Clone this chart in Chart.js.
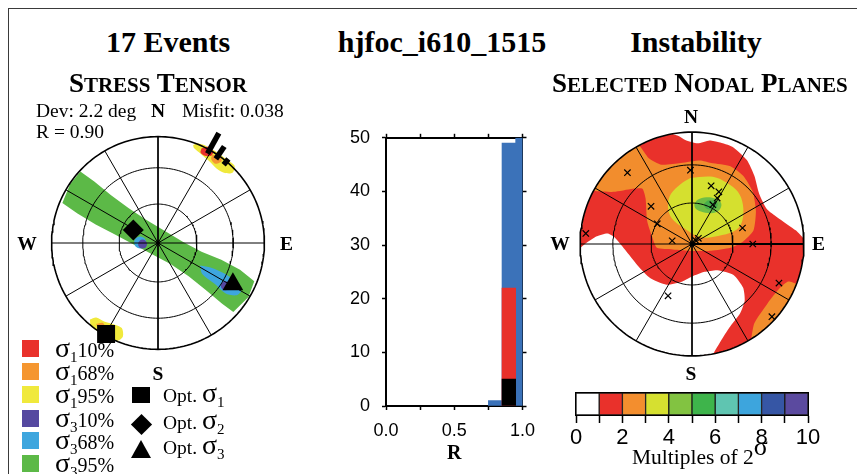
<!DOCTYPE html>
<html>
<head>
<meta charset="utf-8">
<title>hjfoc_i610_1515</title>
<script src="https://cdn.jsdelivr.net/npm/chart.js@4.4.1/dist/chart.umd.min.js"></script>
<style>
  html, body { margin: 0; background: #fff; }
  #page { position: relative; width: 857px; height: 474px; overflow: hidden; font-family: "Liberation Serif", "Times New Roman", serif; color: #000; }
  #frame { position: absolute; left: 8px; top: 8px; width: 900px; height: 500px; border-left: 1.5px solid #3a3a3a; border-top: 1.5px solid #3a3a3a; }
  canvas { position: absolute; }
  .t { position: absolute; white-space: nowrap; line-height: 1; z-index: 2; }
  .c { transform: translateX(-50%); }
  .b { font-weight: bold; }
  .title { font-size: 30px; font-weight: bold; top: 27px; }
  .sc { font-size: 21px; }
  .sig { font-size: 28px; line-height: 0; }
  .sub { font-size: 15px; line-height: 0; position: relative; top: 5px; }
  .sw { position: absolute; left: 22px; width: 17px; height: 17px; }
  .mk { position: absolute; background: #000; }
</style>
</head>
<body>
<div id="page">
  <div id="frame"></div>
  <canvas id="left" width="302" height="302" style="left:7px;top:92px"></canvas>
  <canvas id="hist" width="215" height="355" style="left:330px;top:115px"></canvas>
  <canvas id="right" width="280" height="280" style="left:552px;top:104px"></canvas>
  <canvas id="cbar" width="270" height="70" style="left:560px;top:385px"></canvas>

  <div class="t c title" style="left:168px">17 Events</div>
  <div class="t c title" style="left:442px">hjfoc_i610_1515</div>
  <div class="t c title" style="left:696px">Instability</div>

  <div class="t c b" style="left:158px;top:70.4px;font-size:27px">S<span class="sc">TRESS</span> T<span class="sc">ENSOR</span></div>
  <div class="t b" style="left:552px;top:70.4px;font-size:27px">S<span class="sc">ELECTED</span> N<span class="sc">ODAL</span> P<span class="sc">LANES</span></div>

  <div class="t" style="left:36px;top:100.7px;font-size:19.5px">Dev: 2.2 deg</div>
  <div class="t c b" style="left:158px;top:100.7px;font-size:19.5px">N</div>
  <div class="t" style="left:182px;top:100.7px;font-size:19.5px">Misfit: 0.038</div>
  <div class="t" style="left:36px;top:121.7px;font-size:19.5px">R = 0.90</div>
  <div class="t c b" style="left:27px;top:233.7px;font-size:19.5px">W</div>
  <div class="t c b" style="left:286.5px;top:233.7px;font-size:19.5px">E</div>
  <div class="t c b" style="left:158px;top:363.7px;font-size:19.5px">S</div>

  <div class="t c b" style="left:691px;top:106.7px;font-size:19.5px">N</div>
  <div class="t c b" style="left:691px;top:363.7px;font-size:19.5px">S</div>
  <div class="t c b" style="left:560px;top:233.7px;font-size:19.5px">W</div>
  <div class="t c b" style="left:818.5px;top:233.7px;font-size:19.5px">E</div>

  <div class="sw" style="top:340px;background:#e9312b"></div>
  <div class="t" style="left:55px;top:340.25px;font-size:20px"><span class="sig">σ</span><span class="sub">1</span>10%</div>
  <div class="sw" style="top:363px;background:#f5962f"></div>
  <div class="t" style="left:55px;top:363.25px;font-size:20px"><span class="sig">σ</span><span class="sub">1</span>68%</div>
  <div class="sw" style="top:386px;background:#f0e93c"></div>
  <div class="t" style="left:55px;top:386.25px;font-size:20px"><span class="sig">σ</span><span class="sub">1</span>95%</div>
  <div class="sw" style="top:410px;background:#5548a0"></div>
  <div class="t" style="left:55px;top:410.25px;font-size:20px"><span class="sig">σ</span><span class="sub">3</span>10%</div>
  <div class="sw" style="top:432px;background:#3ea6de"></div>
  <div class="t" style="left:55px;top:432.25px;font-size:20px"><span class="sig">σ</span><span class="sub">3</span>68%</div>
  <div class="sw" style="top:455px;background:#5cb947"></div>
  <div class="t" style="left:55px;top:455.25px;font-size:20px"><span class="sig">σ</span><span class="sub">3</span>95%</div>

  <div class="mk" style="left:132px;top:387px;width:18px;height:16px"></div>
  <div class="mk" style="left:133.5px;top:417px;width:15px;height:15px;transform:rotate(45deg)"></div>
  <div style="position:absolute;left:130.5px;top:440px;width:0;height:0;border-left:10.5px solid transparent;border-right:10.5px solid transparent;border-bottom:18px solid #000"></div>
  <div class="t" style="left:163px;top:385.7px;font-size:19.5px">Opt. <span class="sig">σ</span><span class="sub">1</span></div>
  <div class="t" style="left:163px;top:412.7px;font-size:19.5px">Opt. <span class="sig">σ</span><span class="sub">2</span></div>
  <div class="t" style="left:163px;top:437.7px;font-size:19.5px">Opt. <span class="sig">σ</span><span class="sub">3</span></div>

  <div class="t" style="left:632px;top:447px;font-size:21.5px">Multiples of 2<span style="font-size:26px;line-height:0;position:relative;top:-9px">σ</span></div>
</div>

<script>
"use strict";

// ---------- data ----------

// net grid (equal area): small circles by plunge, spokes by azimuth
const ringPlunges = [60, 30, 0];
const spokeAzimuths = [0, 30, 60, 90, 120, 150];

// stress tensor net (x = east, y = north, unit = net radius)
const optSigma1 = [-0.488, -0.855];
const optSigma2 = [-0.232, 0.122];
const optSigma3 = [0.704, -0.388];
const roseAz = [29, 34.5, 40];
const roseLen = [0.22, 0.14, 0.07];

const sigma3Band95 = [
  [-0.827, 0.552], [-0.730, 0.671], [-0.599, 0.578], [-0.441, 0.449], [-0.278, 0.330],
  [-0.112, 0.218], [0.061, 0.115], [0.233, 0.012], [0.409, -0.082], [0.595, -0.157],
  [0.771, -0.251], [0.905, -0.360], [0.851, -0.508], [0.708, -0.648], [0.603, -0.570],
  [0.446, -0.440], [0.288, -0.312], [0.121, -0.200], [-0.056, -0.106], [-0.233, -0.012],
  [-0.409, 0.082], [-0.586, 0.175], [-0.757, 0.278], [-0.899, 0.375]
];
const sigma3Band68 = [
  [0.397, -0.211], [0.500, -0.232], [0.637, -0.293], [0.733, -0.367], [0.781, -0.448],
  [0.735, -0.492], [0.633, -0.472], [0.532, -0.384], [0.414, -0.288]
];
const sigma3Spot10 = [[0.633, -0.403], [-0.145, -0.01]];
const sigma3Spot68 = [[-0.168, 0.004]];
const sigma1NE95 = [
  [0.33, 0.92], [0.36, 0.935], [0.42, 0.925], [0.50, 0.885], [0.58, 0.835], [0.66, 0.775],
  [0.72, 0.725], [0.70, 0.66], [0.62, 0.66], [0.55, 0.70], [0.48, 0.77], [0.40, 0.84], [0.34, 0.89]
];
const sigma1NE68 = [[0.51, 0.83], [0.57, 0.82], [0.60, 0.77], [0.54, 0.745], [0.50, 0.79]];
const sigma1NE10 = [[0.41, 0.89], [0.47, 0.905], [0.52, 0.86], [0.50, 0.82], [0.44, 0.82], [0.40, 0.85]];
const sigma1SW95 = [
  [-0.64, -0.72], [-0.58, -0.70], [-0.50, -0.74], [-0.40, -0.77], [-0.34, -0.80],
  [-0.33, -0.88], [-0.38, -0.92], [-0.45, -0.90], [-0.55, -0.84], [-0.63, -0.78]
];
const sigma1SW68 = [[-0.58, -0.76], [-0.52, -0.75], [-0.50, -0.79], [-0.56, -0.81]];

// R histogram
const binCenters = [0.8, 0.9, 1.0];
const allCounts = [1, 49, 50];
const redCounts = [0, 22, 0];
const blackCounts = [0, 5, 0];

// instability net: contour edges (x = east, y = north)
const whiteNEEdge = [
  [0.93, 0.12], [0.76, 0.24], [0.67, 0.31], [0.60, 0.45], [0.557, 0.61], [0.49, 0.75],
  [0.36, 0.87], [0.24, 0.91], [0.157, 0.925], [0.05, 0.90], [-0.06, 0.93], [-0.12, 0.965]
];
const whiteNEArc = [-10, 87];
const whiteSWEdge = [
  [-0.857, 0.066], [-0.757, 0.094], [-0.70, 0.066], [-0.60, -0.049], [-0.486, -0.191],
  [-0.371, -0.306], [-0.229, -0.363], [-0.086, -0.334], [0, -0.291], [0.114, -0.249],
  [0.229, -0.234], [0.371, -0.277], [0.457, -0.391], [0.471, -0.506], [0.429, -0.62],
  [0.343, -0.734], [0.286, -0.82]
];
const whiteSWArc = [169, 268];
const orangeEdge = [
  [-0.386, 0.766], [-0.272, 0.708], [-0.10, 0.723], [0.071, 0.745], [0.171, 0.723],
  [0.343, 0.694], [0.457, 0.609], [0.543, 0.466], [0.571, 0.294], [0.55, 0.123],
  [0.457, 0.023], [0.343, -0.034], [0.171, -0.06], [0, -0.063], [-0.171, -0.049],
  [-0.314, -0.034], [-0.357, 0.066], [-0.401, 0.208], [-0.415, 0.408], [-0.443, 0.494],
  [-0.529, 0.494], [-0.701, 0.466]
];
const orangeArc = [298.4, 331.8];
const orangeSEEdge = [[0.86, -0.335], [0.786, -0.392], [0.672, -0.535], [0.557, -0.707]];
const orangeSEArc = [148, 111];
const yellowEdge = [
  [-0.015, 0.59], [0.186, 0.60], [0.314, 0.545], [0.41, 0.466], [0.455, 0.351], [0.45, 0.21],
  [0.40, 0.13], [0.27, 0.08], [0.08, 0.06], [-0.07, 0.14], [-0.186, 0.237], [-0.215, 0.351],
  [-0.186, 0.451], [-0.1, 0.537]
];
const greenEdge = [
  [0.02, 0.35], [0.05, 0.395], [0.13, 0.418], [0.22, 0.40], [0.262, 0.36], [0.24, 0.30],
  [0.17, 0.275], [0.08, 0.29], [0.03, 0.32]
];
const darkGreenEdge = [[0.10, 0.35], [0.15, 0.39], [0.225, 0.37], [0.215, 0.32], [0.14, 0.31]];
const nodalX = [-0.577, -0.014, 0.171, 0.24, 0.225, 0.186, -0.366, 0.451, -0.949, -0.177, 0.057, 0.03, 0.543, 0.777, 0.714, -0.214, -0.31];
const nodalY = [0.637, 0.66, 0.52, 0.466, 0.41, 0.351, 0.337, 0.143, 0.094, 0.029, 0.051, 0.035, 0, -0.349, -0.649, -0.463, 0.18];

// colour scale
const cbarCenters = [0.5, 1.5, 2.5, 3.5, 4.5, 5.5, 6.5, 7.5, 8.5, 9.5];
const cbarColors = ['#ffffff', '#e9312b', '#f38e2e', '#d6e030', '#82c341', '#3eb44b', '#5fc5b1', '#3da5dd', '#3656a5', '#5b4a9f'];

// ---------- helpers ----------
Chart.defaults.font.family = "'Liberation Sans', Arial, sans-serif";
Chart.defaults.color = '#000';

const rad = d => d * Math.PI / 180;
const azPt = (az, r) => [r * Math.sin(rad(az)), r * Math.cos(rad(az))];
const eqArea = plunge => Math.SQRT2 * Math.sin(rad((90 - plunge) / 2));
const xy = arr => arr.map(p => ({x: p[0], y: p[1]}));

function arc(a1, a2) {
  const out = [];
  const n = Math.max(2, Math.ceil(Math.abs(a2 - a1) / 2));
  for (let i = 0; i <= n; i++) out.push(azPt(a1 + (a2 - a1) * i / n, 0.998));
  return out;
}
function closed(arr) { return arr.concat([arr[0]]); }

function poly(points, color, tension) {
  return {data: xy(closed(points)), showLine: true, fill: 'shape', backgroundColor: color,
    borderColor: 'rgba(0,0,0,0)', borderWidth: 0, pointRadius: 0, tension: tension || 0};
}
function line(points, width) {
  return {data: xy(points), showLine: true, fill: false, borderColor: '#000',
    borderWidth: width, pointRadius: 0, tension: 0, borderCapStyle: 'butt'};
}
function marks(points, style, radius, color, width) {
  return {data: xy(points), showLine: false, pointStyle: style, pointRadius: radius,
    backgroundColor: color, borderColor: color, borderWidth: width || 0};
}
function gridSets() {
  const sets = [];
  ringPlunges.forEach(p => {
    const r = eqArea(p);
    const pts = [];
    for (let a = 0; a <= 360; a += 2) pts.push(azPt(a, r));
    sets.push(line(pts, p === 0 ? 1.6 : 1));
  });
  spokeAzimuths.forEach(a => sets.push(line([azPt(a, 1), azPt(a + 180, 1)], 1)));
  return sets;
}

function stereonet(id, half, datasets) {
  datasets.forEach((d, i) => { d.order = datasets.length - i; });
  return new Chart(document.getElementById(id), {
    type: 'scatter',
    data: {datasets: datasets},
    options: {
      responsive: false, animation: false, events: [],
      layout: {padding: 0},
      plugins: {legend: {display: false}, tooltip: {enabled: false}},
      scales: {
        x: {type: 'linear', display: false, min: -half, max: half},
        y: {type: 'linear', display: false, min: -half, max: half}
      }
    }
  });
}

// ---------- stress tensor net ----------
const roseBars = roseAz.map((a, i) => line([azPt(a, 0.96), azPt(a, 0.96 + roseLen[i])], 5.5));
stereonet('left', 1.3, [
  poly(sigma3Band95, '#5cb947'),
  poly(sigma3Band68, '#3ea6de', 0.3),
  marks(sigma3Spot68, 'circle', 6, '#3ea6de'),
  marks(sigma3Spot10, 'circle', 4.5, '#5548a0'),
  poly(sigma1NE95, '#f0e93c', 0.3),
  poly(sigma1NE68, '#f5962f', 0.3),
  poly(sigma1NE10, '#e9312b', 0.3),
  poly(sigma1SW95, '#f0e93c', 0.3),
  poly(sigma1SW68, '#f5962f', 0.3),
  ...gridSets(),
  ...roseBars,
  marks([optSigma1], 'rect', 12.7, '#000'),
  marks([optSigma2], 'rectRot', 10.5, '#000'),
  marks([optSigma3], 'triangle', 12, '#000'),
  marks([[0, 0]], 'circle', 2, '#000')
]);

// ---------- instability net ----------
const disc = [];
for (let a = 0; a < 360; a += 2) disc.push(azPt(a, 0.998));
stereonet('right', 1.2, [
  poly(disc, '#e9312b'),
  poly(arc(whiteNEArc[0], whiteNEArc[1]).concat(whiteNEEdge), '#ffffff', 0.2),
  poly(arc(whiteSWArc[0], whiteSWArc[1]).concat(whiteSWEdge), '#ffffff', 0.2),
  poly(arc(orangeArc[0], orangeArc[1]).concat(orangeEdge), '#f28d2d', 0.2),
  poly(arc(orangeSEArc[0], orangeSEArc[1]).concat(orangeSEEdge), '#f28d2d', 0.2),
  poly(yellowEdge, '#d5e02f', 0.35),
  poly(greenEdge, '#6fbe45', 0.4),
  poly(darkGreenEdge, '#47ae4a', 0.4),
  ...gridSets(),
  line([[0, 0], azPt(90, 1)], 2),
  marks(nodalX.map((x, i) => [x, nodalY[i]]), 'crossRot', 4.5, '#000', 1.2),
  marks([[0, 0]], 'circle', 2.5, '#000')
]);

// ---------- R histogram ----------
const bars = counts => binCenters.map((x, i) => ({x: x, y: counts[i]})).filter(p => p.y > 0);
const tickFont = {family: "'Liberation Sans', Arial, sans-serif", size: 18};
const tickGrid = {display: true, drawOnChartArea: false, drawTicks: true, tickLength: 4, tickColor: '#000', tickWidth: 1.5, offset: false};
const frame = {display: true, color: '#000', width: 2};

new Chart(document.getElementById('hist'), {
  type: 'bar',
  data: {
    datasets: [
      {data: bars(blackCounts), backgroundColor: '#000000'},
      {data: bars(redCounts), backgroundColor: '#e8302a'},
      {data: bars(allCounts), backgroundColor: '#3b72b9'}
    ]
  },
  options: {
    responsive: false, animation: false, events: [],
    layout: {padding: 0},
    datasets: {bar: {grouped: false, barPercentage: 1, categoryPercentage: 1, borderWidth: 0}},
    plugins: {legend: {display: false}, tooltip: {enabled: false}},
    scales: {
      x: {
        type: 'linear', position: 'bottom', min: 0, max: 1, offset: false,
        ticks: {stepSize: 0.25, autoSkip: false, maxRotation: 0, padding: 10, font: tickFont, color: '#000',
          callback: v => Math.abs(v * 2 - Math.round(v * 2)) < 1e-6 ? v.toFixed(1) : ''},
        grid: tickGrid, border: frame,
        title: {display: true, text: 'R', color: '#000', padding: {top: 0, bottom: 4.5},
          font: {family: "'Liberation Serif', 'Times New Roman', serif", size: 20, weight: 'bold'}},
        afterFit: s => { s.height = 64; }
      },
      x2: {
        type: 'linear', axis: 'x', position: 'top', min: 0, max: 1, offset: false,
        ticks: {stepSize: 0.25, display: false}, grid: tickGrid, border: frame,
        afterFit: s => { s.height = 13; }
      },
      y: {
        type: 'linear', position: 'left', min: 0, max: 50,
        ticks: {stepSize: 10, padding: 12, font: tickFont, color: '#000'},
        grid: tickGrid, border: frame,
        afterFit: s => { s.width = 56; }
      },
      y2: {
        type: 'linear', axis: 'y', position: 'right', min: 0, max: 50,
        ticks: {stepSize: 10, display: false}, grid: tickGrid, border: frame,
        afterFit: s => { s.width = 20; }
      }
    }
  }
});

// ---------- colour scale ----------
new Chart(document.getElementById('cbar'), {
  type: 'bar',
  data: {
    datasets: [{
      data: cbarCenters.map(x => ({x: x, y: 1})),
      backgroundColor: cbarColors, borderColor: '#1a1a1a', borderWidth: 1, borderSkipped: false,
      barPercentage: 1, categoryPercentage: 1
    }]
  },
  options: {
    responsive: false, animation: false, events: [],
    layout: {padding: {left: 16, right: 22, top: 8, bottom: 0}},
    plugins: {legend: {display: false}, tooltip: {enabled: false}},
    scales: {
      x: {
        type: 'linear', position: 'bottom', min: 0, max: 10, offset: false,
        ticks: {stepSize: 1, autoSkip: false, maxRotation: 0, padding: 2, color: '#000',
          font: {family: "'Liberation Sans', Arial, sans-serif", size: 22},
          callback: v => v % 2 === 0 ? String(v) : ''},
        grid: {display: true, drawOnChartArea: false, tickLength: 8, tickColor: '#000', tickWidth: 1.5, offset: false},
        border: frame,
        afterFit: s => { s.height = 40; }
      },
      x2: {type: 'linear', axis: 'x', position: 'top', min: 0, max: 10, ticks: {display: false},
        grid: {display: false}, border: frame, afterFit: s => { s.height = 0; }},
      y: {type: 'linear', position: 'left', min: 0, max: 1, ticks: {display: false},
        grid: {display: false}, border: frame, afterFit: s => { s.width = 0; }},
      y2: {type: 'linear', axis: 'y', position: 'right', min: 0, max: 1, ticks: {display: false},
        grid: {display: false}, border: frame, afterFit: s => { s.width = 0; }}
    }
  }
});
</script>
</body>
</html>
